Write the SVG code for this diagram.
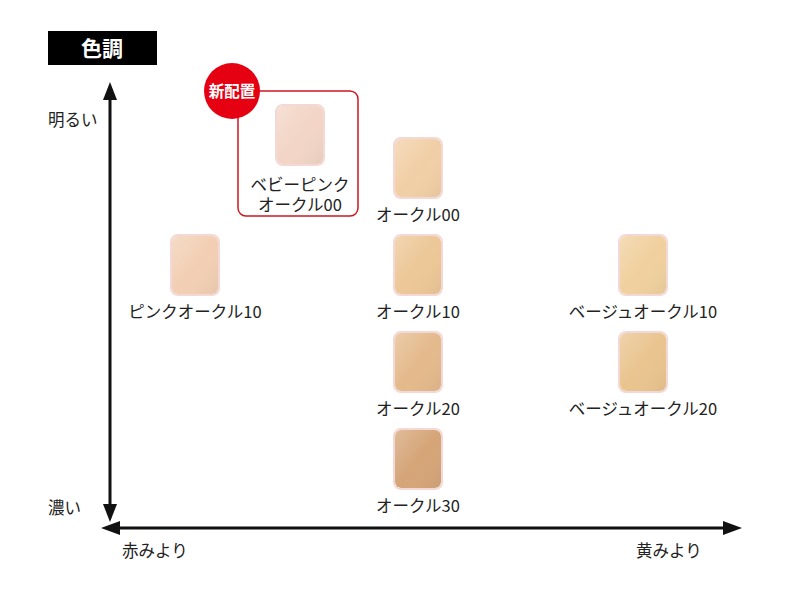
<svg xmlns="http://www.w3.org/2000/svg" width="800" height="596" viewBox="0 0 800 596">
<style>
text{font-family:"Noto Sans CJK JP","Noto Sans",sans-serif;fill:#222;font-size:16.5px}
.l{text-anchor:middle}
.c{stroke:#f4d8d6;stroke-width:2}
.a{stroke:#111;stroke-width:3;fill:none}
</style>
<defs>
<linearGradient id="sh" x1="0" y1="0" x2="1" y2="1"><stop offset="0" stop-color="#fff" stop-opacity="0.25"/><stop offset="0.5" stop-color="#fff" stop-opacity="0"/><stop offset="1" stop-color="#000" stop-opacity="0.05"/></linearGradient>
<g id="cp"><rect x="-24" y="-30" width="48" height="60" rx="7" fill="none" class="c"/><rect x="-23" y="-29" width="46" height="58" rx="6" fill="url(#sh)"/></g>
</defs>
<rect width="800" height="596" fill="#fff"/>
<g id="title"><rect x="48" y="31" width="109" height="34" fill="#000"/><text x="102" y="56" class="l" style="fill:#fff;font-size:21px;font-weight:bold">色調</text></g>
<g id="axes">
<line x1="110" y1="95" x2="110" y2="510" class="a"/>
<polygon points="110,82 103,100 117,100" fill="#111"/>
<polygon points="110,522 103,504 117,504" fill="#111"/>
<line x1="115" y1="528" x2="728" y2="528" class="a"/>
<polygon points="101,528 120,521 120,535" fill="#111"/>
<polygon points="742,528 723,521 723,535" fill="#111"/>
<text x="48" y="126">明るい</text><text x="48" y="514">濃い</text>
<text x="122" y="557">赤みより</text><text x="636" y="557">黄みより</text>
</g>
<g id="new">
<rect x="238" y="91" width="120" height="125" rx="8" fill="none" stroke="#d0161f" stroke-width="1.5"/>
<circle cx="232" cy="91" r="28" fill="#e50012"/>
<text x="232" y="97" class="l" style="fill:#fff;font-size:15.5px;font-weight:bold">新配置</text>
</g>
<g id="babypink"><rect x="277" y="106" width="46" height="58" rx="6" fill="#f2d5c6"/><use href="#cp" x="300" y="135"/><text x="300" y="191" class="l">ベビーピンク</text><text x="300" y="211" class="l">オークル00</text></g>
<g id="oc00"><rect x="395" y="139" width="46" height="58" rx="6" fill="#f1cfa6"/><use href="#cp" x="418" y="168"/><text x="418" y="221" class="l">オークル00</text></g>
<g id="pk10"><rect x="172" y="236" width="46" height="58" rx="6" fill="#f2cfb4"/><use href="#cp" x="195" y="265"/><text x="195" y="318" class="l">ピンクオークル10</text></g>
<g id="oc10"><rect x="395" y="236" width="46" height="58" rx="6" fill="#ecc797"/><use href="#cp" x="418" y="265"/><text x="418" y="318" class="l">オークル10</text></g>
<g id="bg10"><rect x="620" y="236" width="46" height="58" rx="6" fill="#f0d09e"/><use href="#cp" x="643" y="265"/><text x="643" y="318" class="l">ベージュオークル10</text></g>
<g id="oc20"><rect x="395" y="333" width="46" height="58" rx="6" fill="#e4ba8c"/><use href="#cp" x="418" y="362"/><text x="418" y="415" class="l">オークル20</text></g>
<g id="bg20"><rect x="620" y="333" width="46" height="58" rx="6" fill="#e9c48f"/><use href="#cp" x="643" y="362"/><text x="643" y="415" class="l">ベージュオークル20</text></g>
<g id="oc30"><rect x="395" y="430" width="46" height="58" rx="6" fill="#d5a578"/><use href="#cp" x="418" y="459"/><text x="418" y="512" class="l">オークル30</text></g>
</svg>
